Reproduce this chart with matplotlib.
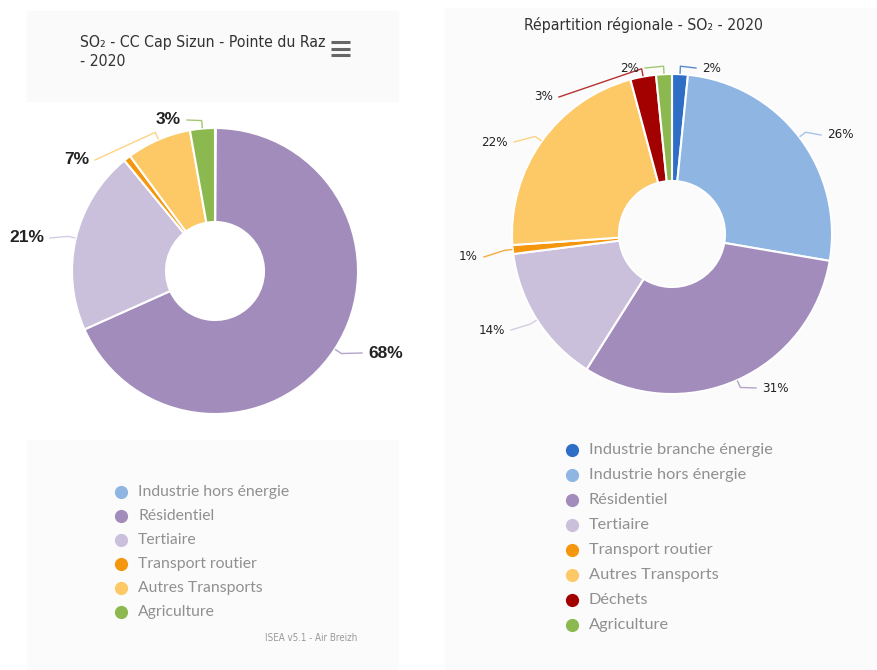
import numpy as np
import matplotlib
matplotlib.use('Agg')
import matplotlib.pyplot as plt
from matplotlib.patches import Rectangle

W, H = 877, 670

# SO2 2020 - CC Cap Sizun - Pointe du Raz
left_sectors = ['Industrie hors énergie', 'Résidentiel', 'Tertiaire',
                'Transport routier', 'Autres Transports', 'Agriculture']
left_values = [0.1, 68.0, 20.7, 0.8, 7.3, 2.8]

# SO2 2020 - région
right_sectors = ['Industrie branche énergie', 'Industrie hors énergie', 'Résidentiel',
                 'Tertiaire', 'Transport routier', 'Autres Transports', 'Déchets',
                 'Agriculture']
right_values = [1.6, 26.2, 31.4, 14.1, 0.9, 22.0, 2.6, 1.6]

colors = {
    'Industrie branche énergie': '#2f6ec6',
    'Industrie hors énergie': '#8fb5e3',
    'Résidentiel': '#a18cbb',
    'Tertiaire': '#cbc0dc',
    'Transport routier': '#f4970f',
    'Autres Transports': '#fdc866',
    'Déchets': '#a30000',
    'Agriculture': '#8cb94f',
}

# placement des etiquettes (x, y en pixels, alignement), None = masquee
left_label_pos = [None, (368, 353, 'left'), (44, 238, 'right'), None,
                  (89, 160, 'right'), (181, 120, 'right')]
right_label_pos = [(702, 68, 'left'), (827, 135, 'left'), (762, 388, 'left'),
                   (505, 330, 'right'), (478, 257, 'right'), (508, 142, 'right'),
                   (553, 97, 'right'), (639, 68, 'right')]

TITLE_FONT = ['DejaVu Sans']


def Y(y):
    # pixels depuis le haut -> coordonnees axes
    return H - y


def donut(ax, sectors, values, cx, cy, r_out, r_in, label_pos, fsize, weight, family, stretch):
    cols = [colors[s] for s in sectors]
    ax.pie(values, colors=cols, startangle=90, counterclock=False,
           radius=r_out, center=(cx, Y(cy)),
           wedgeprops=dict(width=r_out - r_in, edgecolor='white', linewidth=1.5))
    total = sum(values)
    cum = 0.0
    for v, col, pos in zip(values, cols, label_pos):
        mid = (cum + v / 2) / total * 2 * np.pi
        cum += v
        if pos is None:
            continue
        pct = round(v / total * 100)
        lx, ly, ha = pos
        dx, dy = np.sin(mid), np.cos(mid)
        x0, y0 = cx + (r_out + 1) * dx, Y(cy) + (r_out + 1) * dy
        x1, y1 = cx + (r_out + 8) * dx, Y(cy) + (r_out + 8) * dy
        x2 = lx - 6 if ha == 'left' else lx + 6
        ax.plot([x0, x1, x2], [y0, y1, Y(ly)], color=col, lw=1, alpha=0.8,
                solid_joinstyle='round')
        ax.text(lx, Y(ly), '%d%%' % pct, ha=ha, va='center', fontsize=fsize,
                fontweight=weight, family=family, fontstretch=stretch, color='#222222')


def legend(ax, sectors, x, y0, step, fsize):
    for i, s in enumerate(sectors):
        y = y0 + i * step
        ax.plot(x, Y(y), 'o', ms=9.5, color=colors[s], mec='none')
        ax.text(x + 17, Y(y), s, ha='left', va='center', fontsize=fsize,
                family=['Lato', 'DejaVu Sans'], color='#909090')


fig = plt.figure(figsize=(W / 100, H / 100), dpi=100)
ax = fig.add_axes([0, 0, 1, 1])

# fonds des panneaux
ax.add_patch(Rectangle((27, Y(101)), 371, 90, color='#fafafa', zorder=0))
ax.add_patch(Rectangle((27, Y(670)), 371, 230, color='#fbfbfb', zorder=0))
ax.add_patch(Rectangle((445, Y(670)), 432, 662, color='#fbfbfb', zorder=0))

donut(ax, left_sectors, left_values, 215, 271, 143, 49, left_label_pos,
      12.5, 'bold', ['Liberation Sans', 'DejaVu Sans'], 'normal')
donut(ax, right_sectors, right_values, 672, 234, 160, 53, right_label_pos,
      9.5, 'normal', TITLE_FONT, 'condensed')

# titres
title_kw = dict(fontsize=11.3, family=TITLE_FONT, fontstretch='condensed', color='#333333')
ax.text(80, Y(43), 'SO₂ - CC Cap Sizun - Pointe du Raz', ha='left', va='center', **title_kw)
ax.text(80, Y(62), '- 2020', ha='left', va='center', **title_kw)
ax.text(644, Y(25), 'Répartition régionale - SO₂ - 2020', ha='center', va='center', **title_kw)

# bouton menu
for yy in (42, 48.5, 55):
    ax.plot([331, 350], [Y(yy), Y(yy)], color='#666666', lw=2.2, solid_capstyle='butt')

legend(ax, left_sectors, 121, 492, 24, 11.3)
legend(ax, right_sectors, 572, 450, 25, 11.8)

ax.text(357, Y(638), 'ISEA v5.1 - Air Breizh', ha='right', va='center',
        fontsize=7, family=TITLE_FONT, fontstretch='condensed', color='#999999')

ax.set_xlim(0, W)
ax.set_ylim(0, H)
ax.set_aspect('auto')
ax.axis('off')

fig.savefig('out.png', dpi=100, facecolor='white')
